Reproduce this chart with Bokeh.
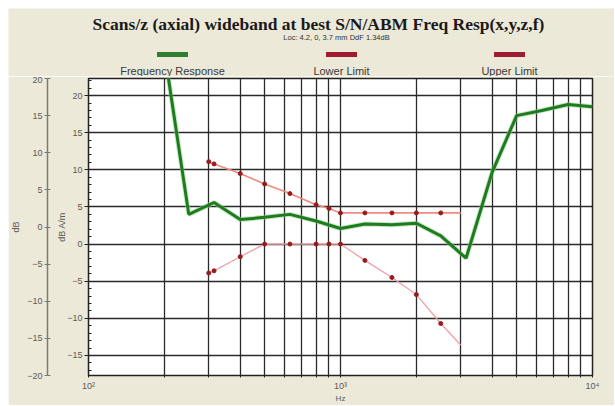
from bokeh.plotting import figure
from bokeh.layouts import column, row
from bokeh.models import Range1d, LinearAxis, FixedTicker
from bokeh.core.properties import value
from bokeh.embed import file_html
from bokeh.resources import INLINE

# ---------------- data ----------------
resp_hz = [200, 250, 315, 400, 500, 630, 800, 1000, 1250, 1600, 2000, 2500, 3150, 4000, 5000, 6300, 8000, 10000]
resp_db = [26.0, 4.0, 5.6, 3.3, 3.6, 4.0, 3.1, 2.1, 2.7, 2.6, 2.8, 1.1, -1.9, 9.7, 17.3, 18.0, 18.8, 18.5]

limit_hz = [300, 315, 400, 500, 630, 800, 900, 1000, 1250, 1600, 2000, 2500, 3000]
lower_db = [-3.9, -3.6, -1.7, 0.0, 0.0, 0.0, 0.0, 0.0, -2.2, -4.5, -6.8, -10.7, -13.6]
upper_db = [11.1, 10.8, 9.5, 8.1, 6.8, 5.3, 4.8, 4.2, 4.2, 4.2, 4.2, 4.2, 4.2]

x_ticks = [100, 1000, 10000]
x_tick_labels = ["10\u00b2", "10\u00b3", "10\u2074"]
x_minor = [200, 300, 400, 500, 600, 700, 800, 900, 2000, 3000, 4000, 5000, 6000, 7000, 8000, 9000]
y_ticks = [-15, -10, -5, 0, 5, 10, 15, 20]
y_minor = list(range(-17, 23))
y2_ticks = [-20, -15, -10, -5, 0, 5, 10, 15, 20]

title_text = "Scans/z (axial) wideband at best S/N/ABM Freq Resp(x,y,z,f)"
subtitle_text = "Loc: 4.2, 0, 3.7 mm DdF 1.34dB"
legend_names = ["Frequency Response", "Lower Limit", "Upper Limit"]
legend_colors = ["#2f7d2f", "#a01c30", "#a01c30"]

BG = "#ece9d8"
GRID = "#2a2a2a"
TICK_TXT = "#5a5a5a"
W = 606
HEAD_H = 68
MAIN_H = 329

# ---------------- header (title, subtitle, legend) ----------------
h = figure(width=W, height=HEAD_H, x_range=Range1d(8, 8 + W), y_range=Range1d(8 + HEAD_H, 8),
           output_backend="svg", toolbar_location=None, min_border=0,
           x_axis_location=None, y_axis_location=None,
           background_fill_color=BG, border_fill_color=BG, outline_line_color=None)
h.grid.visible = False
h.margin = (8, 0, 0, 8)

h.text(x=[318], y=[23], text=[title_text], text_align="center", text_baseline="middle",
       text_font=value("Liberation Serif"), text_font_style="bold",
       text_font_size=value("17.5px"), text_color="#1a1a1a")
h.text(x=[336], y=[37], text=[subtitle_text], text_align="center", text_baseline="middle",
       text_font=value("Liberation Sans"), text_font_size=value("7.5px"), text_color="#333333")
leg_x = [172, 341, 509]
h.rect(x=leg_x, y=[54, 54, 54], width=31, height=5, fill_color=legend_colors,
       line_color=None)
h.text(x=leg_x, y=[70, 70, 70], text=legend_names, text_align="center", text_baseline="middle",
       text_font=value("Liberation Sans"), text_font_size=value("11px"), text_color="#3a3a3a")

# ---------------- main chart ----------------
p = figure(width=W, height=MAIN_H, x_axis_type="log",
           x_range=Range1d(100, 10000), y_range=Range1d(-17.7, 22.3),
           output_backend="svg", toolbar_location=None,
           min_border_left=80, min_border_right=22, min_border_top=2, min_border_bottom=29,
           background_fill_color="white", border_fill_color=BG,
           outline_line_color="#222222", outline_line_width=1.5)
p.margin = (0, 0, 0, 8)

# x axis
xt = FixedTicker(ticks=x_ticks, minor_ticks=x_minor)
xa = p.xaxis[0]
xa.ticker = xt
xa.major_label_overrides = {t: l for t, l in zip(x_ticks, x_tick_labels)}
xa.axis_label = "Hz"
xa.axis_label_standoff = 0
xa.axis_label_text_font_size = "8px"
xa.axis_label_text_font_style = "normal"
xa.axis_label_text_color = TICK_TXT
xa.major_tick_in = 0
xa.major_tick_out = 2
xa.minor_tick_in = 0
xa.minor_tick_out = 2
xa.major_label_standoff = 3
xa.major_label_text_font_size = "9px"
xa.major_label_text_color = TICK_TXT
xa.axis_line_color = "#222222"
xa.major_tick_line_color = "#222222"
xa.minor_tick_line_color = "#222222"
p.xgrid[0].ticker = xt
p.xgrid[0].grid_line_color = GRID
p.xgrid[0].grid_line_width = 1.3
p.xgrid[0].minor_grid_line_color = GRID
p.xgrid[0].minor_grid_line_width = 1.3

# primary y axis
yt = FixedTicker(ticks=y_ticks, minor_ticks=y_minor)
ya = p.yaxis[0]
ya.ticker = yt
ya.axis_label = "\ndB A/m"
ya.axis_label_text_font_size = "9px"
ya.axis_label_text_font_style = "normal"
ya.axis_label_text_color = TICK_TXT
ya.axis_label_text_line_height = 0.7
ya.axis_label_standoff = -3
ya.major_tick_in = 0
ya.major_tick_out = 4
ya.minor_tick_in = 3
ya.minor_tick_out = 0
ya.major_label_standoff = 2
ya.major_label_text_font_size = "9px"
ya.major_label_text_color = TICK_TXT
ya.axis_line_color = "#222222"
ya.major_tick_line_color = "#222222"
ya.minor_tick_line_color = "#222222"
p.ygrid[0].ticker = yt
p.ygrid[0].grid_line_color = GRID
p.ygrid[0].grid_line_width = 1.3

# secondary y axis
p.extra_y_ranges = {"db": Range1d(-20, 20)}
ya2 = LinearAxis(y_range_name="db", ticker=FixedTicker(ticks=y2_ticks, minor_ticks=[]),
                 axis_label="dB")
ya2.axis_label_text_font_size = "9px"
ya2.axis_label_text_font_style = "normal"
ya2.axis_label_text_color = TICK_TXT
ya2.axis_label_standoff = 3
ya2.major_tick_in = 3
ya2.major_tick_out = 3
ya2.minor_tick_in = 0
ya2.minor_tick_out = 0
ya2.major_label_standoff = 2
ya2.major_label_text_font_size = "9px"
ya2.major_label_text_color = TICK_TXT
ya2.axis_line_color = "#7a7a7a"
ya2.axis_line_width = 1.5
ya2.major_tick_line_color = "#7a7a7a"
p.add_layout(ya2, "left")

# limit lines
p.line(limit_hz, upper_db, line_color="#f08a80", line_width=1.6)
p.line(limit_hz, lower_db, line_color="#f0a0a8", line_width=1.3)
p.scatter(limit_hz[:-1], upper_db[:-1], size=4, color="#9a1a1a")
p.scatter(limit_hz[:-1], lower_db[:-1], size=4, color="#9a1a1a")

# frequency response
p.line(resp_hz, resp_db, line_color="#8fd08f", line_width=5, line_alpha=0.5)
p.line(resp_hz, resp_db, line_color="#1e7b1e", line_width=3)

layout = column(row(h), row(p), spacing=0)
open("out.html", "w").write(file_html(layout, INLINE))
